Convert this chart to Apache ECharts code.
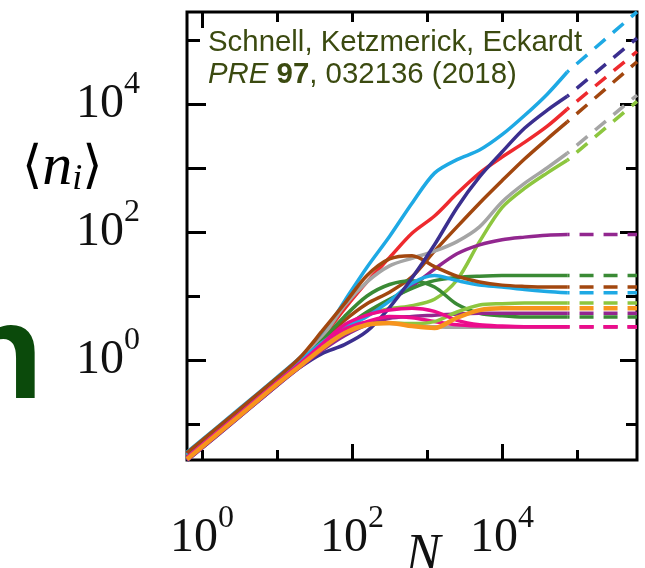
<!DOCTYPE html>
<html>
<head>
<meta charset="utf-8">
<script src="https://cdn.jsdelivr.net/npm/echarts@6/dist/echarts.min.js"></script>
<style>
html,body{margin:0;padding:0;background:#fff;}
#chart{width:645px;height:568px;}
</style>
</head>
<body>
<div id="chart"></div>
<script>
// ---- data: exponents (log10) ----
const logN = [-0.2, 0.5, 1.0, 1.3, 1.6, 1.9, 2.2, 2.5, 2.8, 3.1, 3.4, 3.7, 4.0, 4.3, 4.6, 4.87];
const dashN = [4.87, 5.8];

// growing modes
const lightBlueUp = [-1.44,-0.76,-0.27,0.03,0.38,0.92,1.45,1.93,2.45,2.92,3.13,3.28,3.52,3.82,4.15,4.5];
const indigoUp    = [-1.57,-0.89,-0.40,-0.12,0.10,0.24,0.45,0.82,1.28,1.80,2.38,2.86,3.25,3.62,3.90,4.12];
const redUp       = [-1.47,-0.79,-0.30,0.00,0.35,0.80,1.22,1.60,1.98,2.25,2.60,2.92,3.17,3.40,3.65,3.92];
const brownUp     = [-1.50,-0.82,-0.33,-0.03,0.30,0.62,0.88,1.06,1.30,1.70,2.08,2.45,2.80,3.14,3.45,3.72];
const grayUp      = [-1.49,-0.81,-0.32,-0.02,0.35,0.85,1.22,1.47,1.59,1.70,1.85,2.08,2.47,2.76,3.00,3.23];
const greenUp     = [-1.53,-0.85,-0.36,-0.07,0.22,0.50,0.70,0.80,0.85,0.95,1.25,1.85,2.38,2.68,2.92,3.12];
const upEnds      = {lightBlue:5.44, indigo:5.03, red:4.82, brown:4.66, gray:4.14, green:4.04};

// saturating modes
const purpleHigh  = [-1.55,-0.87,-0.38,-0.09,0.20,0.47,0.70,0.93,1.15,1.42,1.66,1.80,1.88,1.92,1.95,1.96];
const dkGreenHigh = [-1.52,-0.84,-0.35,-0.06,0.22,0.50,0.75,0.95,1.12,1.24,1.29,1.31,1.32,1.32,1.32,1.32];
const brownBump   = [-1.45,-0.77,-0.28,0.03,0.45,0.88,1.32,1.58,1.63,1.46,1.31,1.22,1.17,1.15,1.14,1.14];
const lightBlueSat= [-1.48,-0.80,-0.31,-0.02,0.27,0.50,0.68,0.92,1.20,1.32,1.24,1.17,1.14,1.10,1.07,1.05];
const greenSat    = [-1.54,-0.86,-0.37,-0.08,0.20,0.42,0.55,0.58,0.57,0.60,0.75,0.86,0.88,0.89,0.89,0.89];
const purpleLow   = [-1.57,-0.89,-0.40,-0.12,0.15,0.38,0.55,0.65,0.68,0.70,0.72,0.73,0.73,0.73,0.73,0.73];
const dkGreenLow  = [-1.51,-0.83,-0.34,-0.05,0.30,0.68,1.00,1.18,1.24,1.14,0.87,0.73,0.69,0.67,0.67,0.67];
const grayLow     = [-1.50,-0.82,-0.33,-0.04,0.28,0.50,0.58,0.57,0.55,0.52,0.51,0.51,0.51,0.51,0.51,0.51];
const pinkA       = [-1.52,-0.84,-0.35,-0.06,0.25,0.55,0.70,0.78,0.81,0.76,0.62,0.55,0.53,0.52,0.52,0.52];
const pinkB       = [-1.54,-0.86,-0.37,-0.08,0.20,0.48,0.60,0.68,0.66,0.60,0.55,0.53,0.52,0.52,0.52,0.52];
const orangeSat   = [-1.55,-0.87,-0.38,-0.10,0.18,0.42,0.55,0.58,0.53,0.50,0.66,0.78,0.81,0.81,0.81,0.81];

const xMajorLabels = [0, 2, 4];
const yMajorLabels = [0, 2, 4];

const C = {
  lightBlue:'#1ea9e4', indigo:'#3b2f8f', red:'#ee2a2e', brown:'#a2470f', gray:'#a5a5a5',
  green:'#8dc63f', purple:'#92278f', dkGreen:'#3a8a35', orange:'#f7941d', pink:'#ec0c8c'
};

const curves = [
  {v: grayLow, c: C.gray},
  {v: lightBlueUp, c: C.lightBlue, end: upEnds.lightBlue},
  {v: redUp, c: C.red, end: upEnds.red},
  {v: brownUp, c: C.brown, end: upEnds.brown},
  {v: grayUp, c: C.gray, end: upEnds.gray},
  {v: greenUp, c: C.green, end: upEnds.green},
  {v: purpleHigh, c: C.purple},
  {v: dkGreenHigh, c: C.dkGreen},
  {v: dkGreenLow, c: C.dkGreen},
  {v: lightBlueSat, c: C.lightBlue},
  {v: brownBump, c: C.brown},
  {v: indigoUp, c: C.indigo, end: upEnds.indigo},
  {v: purpleLow, c: C.purple},
  {v: pinkB, c: C.pink},
  {v: greenSat, c: C.green},
  {v: pinkA, c: C.pink},
  {v: orangeSat, c: C.orange, w: 4.5}
];

const series = [];
curves.forEach(cv => {
  const w = cv.w || 3.5;
  series.push({
    type:'line', xAxisIndex:0, yAxisIndex:0, symbol:'none', smooth:0.3,
    lineStyle:{color:cv.c, width:w}, data: logN.map((x,i)=>[x, cv.v[i]]), silent:true
  });
  const last = cv.v[cv.v.length-1];
  const end = cv.end !== undefined ? cv.end : last;
  series.push({
    type:'line', xAxisIndex:0, yAxisIndex:0, symbol:'none',
    lineStyle:{color:cv.c, width:w, type:[14,10], dashOffset:11.7},
    data: [[dashN[0], last],[dashN[1], end]], silent:true
  });
});

const labelRich = {
  b:{fontFamily:'Liberation Serif', fontSize:48, lineHeight:70, color:'#111'},
  s:{fontFamily:'Liberation Serif', fontSize:32, lineHeight:32, verticalAlign:'top', color:'#111'}
};
const fmt = v => '{b|10}{s|' + Math.round(v) + '}';

function xAx(pos, ticks, len, labels) {
  return {
    type:'value', min:-0.2, max:5.8, position:pos,
    axisLine:{show:false, onZero:false}, splitLine:{show:false},
    axisTick:{show:true, inside:true, length:len, customValues:ticks, lineStyle:{color:'#000', width:3}},
    axisLabel: labels ? {show:true, customValues:labels, formatter:fmt, rich:labelRich, margin:43} : {show:false}
  };
}
function yAx(pos, ticks, len, labels) {
  return {
    type:'value', min:-1.5625, max:5.4375, position:pos,
    axisLine:{show:false, onZero:false}, splitLine:{show:false},
    axisTick:{show:true, inside:true, length:len, customValues:ticks, lineStyle:{color:'#000', width:3}},
    axisLabel: labels ? {show:true, customValues:labels, formatter:fmt, rich:labelRich, margin:47} : {show:false}
  };
}

const chart = echarts.init(document.getElementById('chart'), null, {renderer:'canvas'});
chart.setOption({
  animation:false,
  backgroundColor:'#fff',
  grid:{left:187, top:12, width:450, height:448, show:true, borderColor:'#000', borderWidth:3, backgroundColor:'transparent'},
  xAxis:[
    xAx('bottom', [0,1,3,5], 10, xMajorLabels),
    xAx('bottom', [2,4], 16, null),
    xAx('top', [1,2,3,4,5], 10, null),
    xAx('top', [0], 16, null)
  ],
  yAxis:[
    yAx('left', [-1,1,5], 13, yMajorLabels),
    yAx('left', [0,2,3,4], 19, null),
    yAx('right', [-1,1,3,5], 11, null),
    yAx('right', [0,2,4], 17, null)
  ],
  series: series,
  graphic:[
    {type:'text', z:100, style:{
      text:'Schnell, Ketzmerick, Eckardt', x:208, y:43, verticalAlign:'middle',
      font:'29.4px "Liberation Sans"', fill:'#3b4a10'}},
    {type:'text', z:100, style:{
      text:'{i|PRE} {b|97}, 032136 (2018)', x:208, y:75, verticalAlign:'middle',
      font:'29.4px "Liberation Sans"', fill:'#3b4a10',
      rich:{i:{fontStyle:'italic', fontFamily:'Liberation Sans', fontSize:29.4, color:'#3b4a10'},
            b:{fontWeight:'bold', fontFamily:'Liberation Sans', fontSize:29.4, color:'#3b4a10'}}}},
    {type:'text', z:100, style:{
      text:'{a|⟨}{n|n}{s|i}{a|⟩}', x:22, y:168, verticalAlign:'middle',
      rich:{a:{fontFamily:'DejaVu Serif', fontSize:52, lineHeight:60, color:'#111'},
            n:{fontFamily:'Liberation Serif', fontStyle:'italic', fontSize:60, lineHeight:60, color:'#111'},
            s:{fontFamily:'Liberation Serif', fontStyle:'italic', fontSize:36, lineHeight:34, verticalAlign:'bottom', color:'#111'}}}},
    {type:'text', z:100, style:{
      text:'N', x:423, y:556, textAlign:'center', verticalAlign:'middle',
      font:'italic 52px "Liberation Serif"', fill:'#111'}},
    {type:'text', z:100, style:{
      text:'n', x:43, y:360, textAlign:'right', verticalAlign:'middle',
      font:'bold 136px "Liberation Sans"', fill:'#0b4a0b'}}
  ]
});
</script>
</body>
</html>
